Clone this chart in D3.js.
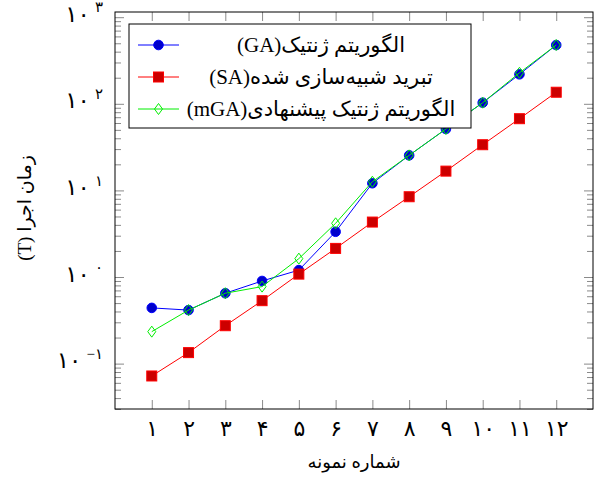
<!DOCTYPE html>
<html>
<head>
<meta charset="utf-8">
<script src="https://cdn.jsdelivr.net/npm/d3@7"></script>
<style>
  body { margin: 0; background: #fff; }
  svg { display: block; }
  text { font-family: "Liberation Serif", "DejaVu Sans", serif; fill: #000; }
</style>
</head>
<body>
<svg id="chart" width="596" height="478"></svg>
<script>
// sample number 1..12
var samples = [1, 2, 3, 4, 5, 6, 7, 8, 9, 10, 11, 12];
// run time (T), log scale
var gaTimes  = [0.44, 0.415, 0.65, 0.90, 1.2, 3.33, 12.1, 25.4, 51.2, 103, 219, 477];
var saTimes  = [0.072, 0.134, 0.274, 0.533, 1.08, 2.14, 4.31, 8.45, 16.7, 33.7, 67.3, 136];
var mgaTimes = [0.234, 0.415, 0.65, 0.775, 1.63, 4.17, 12.6, 25.4, 51.2, 103, 228, 477];

var seriesNames = ["الگوریتم ژنتیک(GA)", "تبرید شبیه\u200Cسازی شده(SA)", "الگوریتم ژنتیک پیشنهادی(mGA)"];
var xTitle = "شماره نمونه";
var yTitle = "زمان اجرا (T)";
var faDigits = ["۰", "۱", "۲", "۳", "۴", "۵", "۶", "۷", "۸", "۹"];

function toFa(n) {
  return String(n).replace(/-/g, "\u2212").replace(/[0-9]/g, function (d) { return faDigits[+d]; });
}

var svg = d3.select("#chart");
var plotL = 115, plotR = 593, plotT = 12, plotB = 409;

var x = d3.scaleLinear().domain([0, 13]).range([plotL, plotR]);
var y = d3.scaleLog().domain([Math.pow(10, -1.524), Math.pow(10, 3.06)]).range([plotB, plotT]);

var allTicks = y.ticks();
var majors = allTicks.filter(function (v) { return Math.abs(Math.log10(v) - Math.round(Math.log10(v))) < 1e-9; });
var minors = allTicks.filter(function (v) { return majors.indexOf(v) < 0; });

var tickColor = "#8a8a8a";

// x axes (bottom with labels, top ticks only)
var gx = svg.append("g").attr("transform", "translate(0," + plotB + ")")
  .call(d3.axisBottom(x).tickValues(samples).tickSize(-9).tickSizeOuter(0).tickPadding(11).tickFormat(toFa));
gx.select(".domain").remove();
gx.selectAll("line").attr("stroke", tickColor);
gx.selectAll("text").style("font-size", "22px");
gx.attr("font-family", null);

var gxt = svg.append("g").attr("transform", "translate(0," + plotT + ")")
  .call(d3.axisTop(x).tickValues(samples).tickSize(-9).tickSizeOuter(0).tickFormat(""));
gxt.select(".domain").remove();
gxt.selectAll("line").attr("stroke", tickColor);

// y axes: majors + minors on both sides
function yTicks(axisFn, xpos, vals, len, withLabels) {
  var g = svg.append("g").attr("transform", "translate(" + xpos + ",0)")
    .call(axisFn(y).tickValues(vals).tickSize(-len).tickSizeOuter(0).tickPadding(11)
      .tickFormat(withLabels ? function (d) { return d; } : ""));
  g.select(".domain").remove();
  g.selectAll("line").attr("stroke", tickColor);
  g.attr("font-family", null);
  return g;
}
var gy = yTicks(d3.axisLeft, plotL, majors, 9, true);
yTicks(d3.axisLeft, plotL, minors, 6, false);
yTicks(d3.axisRight, plotR, majors, 9, false);
yTicks(d3.axisRight, plotR, minors, 6, false);

gy.selectAll("text").each(function (d) {
  var t = d3.select(this).text("").attr("direction", "ltr").attr("dy", "0.4em").attr("x", -12);
  t.append("tspan").style("font-size", "23px").text(toFa(10));
  t.append("tspan").style("font-size", "15px").attr("dx", 5).attr("dy", "-0.62em").text(toFa(Math.round(Math.log10(d))));
});

// frame
svg.append("rect").attr("x", plotL).attr("y", plotT).attr("width", plotR - plotL).attr("height", plotB - plotT)
  .attr("fill", "none").attr("stroke", "#000").attr("stroke-width", 1);

var line = d3.line().x(function (d, i) { return x(samples[i]); }).y(function (d) { return y(d); });

var styles = [
  { color: "#0000ff", mark: "circle", fill: "#0000cc" },
  { color: "#ff0000", mark: "square", fill: "#cc0000" },
  { color: "#00ee00", mark: "diamond", fill: "none" }
];

function drawMark(g, kind, cx, cy, st) {
  if (kind === "circle") {
    g.append("circle").attr("cx", cx).attr("cy", cy).attr("r", 4.8)
      .attr("fill", st.fill).attr("stroke", st.color).attr("stroke-width", 1);
  } else if (kind === "square") {
    g.append("rect").attr("x", cx - 5).attr("y", cy - 5).attr("width", 10).attr("height", 10)
      .attr("fill", st.fill).attr("stroke", st.color).attr("stroke-width", 1);
  } else {
    g.append("path").attr("d", "M" + cx + "," + (cy - 5.5) + "L" + (cx + 4) + "," + cy + "L" + cx + "," + (cy + 5.5) + "L" + (cx - 4) + "," + cy + "Z")
      .attr("fill", "none").attr("stroke", st.color).attr("stroke-width", 1);
  }
}

[gaTimes, saTimes, mgaTimes].forEach(function (vals, k) {
  var st = styles[k];
  var g = svg.append("g");
  g.append("path").datum(vals).attr("d", line).attr("fill", "none").attr("stroke", st.color).attr("stroke-width", 1);
  vals.forEach(function (v, i) { drawMark(g, st.mark, x(samples[i]), y(v), st); });
});

// legend
var lg = svg.append("g");
lg.append("rect").attr("x", 129).attr("y", 24).attr("width", 342).attr("height", 104)
  .attr("fill", "#fff").attr("stroke", "#000").attr("stroke-width", 1);
var rowY = [45, 77, 109];
seriesNames.forEach(function (name, k) {
  var st = styles[k];
  lg.append("line").attr("x1", 138).attr("x2", 179).attr("y1", rowY[k]).attr("y2", rowY[k])
    .attr("stroke", st.color).attr("stroke-width", 1);
  drawMark(lg, st.mark, 158.5, rowY[k], st);
  lg.append("text").attr("x", 321).attr("y", rowY[k]).attr("dy", "0.35em")
    .attr("text-anchor", "middle").attr("direction", "rtl").style("font-size", "21px").text(name);
});

// axis titles
svg.append("text").attr("x", (plotL + plotR) / 2).attr("y", 468).attr("text-anchor", "middle")
  .attr("direction", "rtl").style("font-size", "18px").text(xTitle);
svg.append("text").attr("transform", "translate(31,208) rotate(-90)").attr("text-anchor", "middle")
  .attr("direction", "rtl").style("font-size", "19px").text(yTitle);
</script>
</body>
</html>
